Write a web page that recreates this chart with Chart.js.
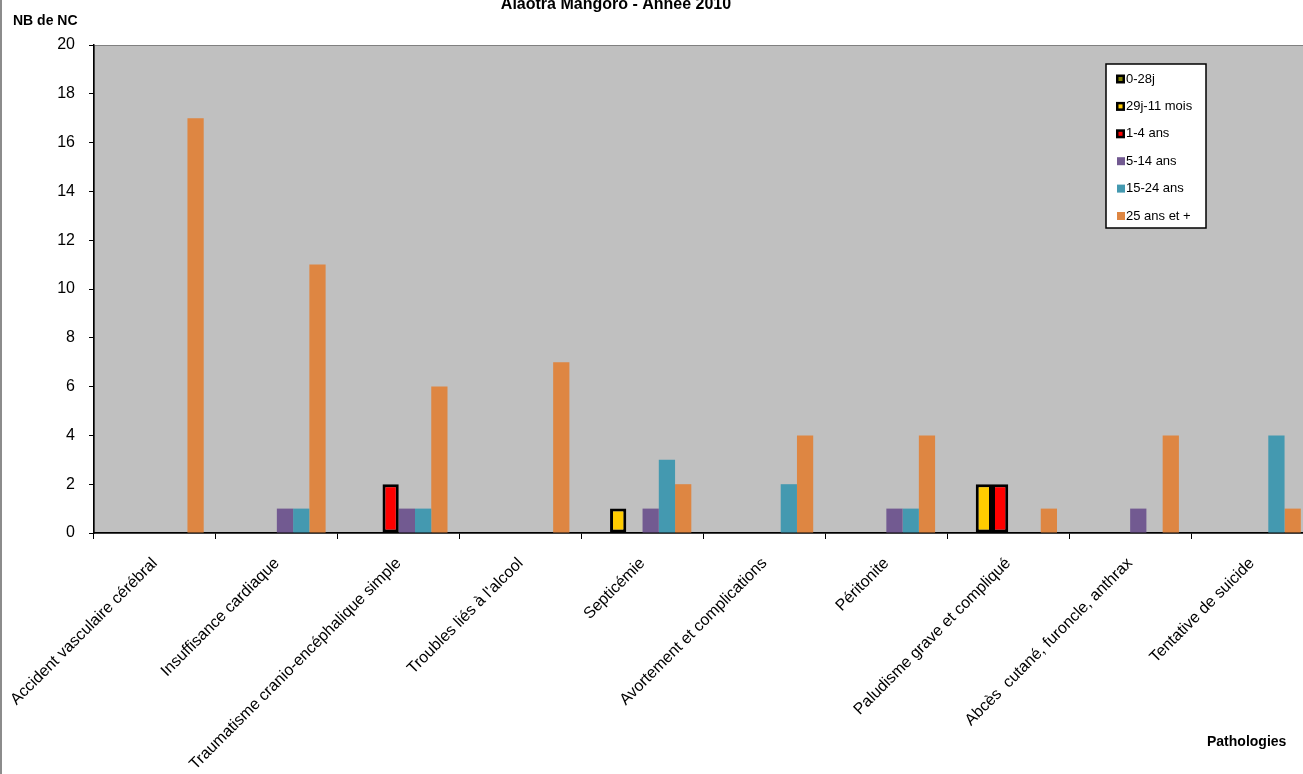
<!DOCTYPE html>
<html>
<head>
<meta charset="utf-8">
<script src="https://cdn.jsdelivr.net/npm/chart.js@4.4.0/dist/chart.umd.min.js"></script>
<style>
  html, body { margin: 0; padding: 0; background: #fff; overflow: hidden; }
  #wrap { position: relative; width: 1313px; height: 774px; }
</style>
</head>
<body>
<div id="wrap"><canvas id="chart"></canvas></div>
<script>
const categories = [
  "Accident vasculaire cérébral",
  "Insuffisance cardiaque",
  "Traumatisme cranio-encéphalique simple",
  "Troubles liés à l'alcool",
  "Septicémie",
  "Avortement et complications",
  "Péritonite",
  "Paludisme grave et compliqué",
  "Abcès  cutané, furoncle, anthrax",
  "Tentative de suicide",
];
const seriesLabels = ["0-28j", "29j-11 mois", "1-4 ans", "5-14 ans", "15-24 ans", "25 ans et +"];
const val0_28j    = [0, 0, 0, 0, 0, 0, 0, 0, 0, 0];
const val29j_11m  = [0, 0, 0, 0, 1, 0, 0, 2, 0, 0];
const val1_4ans   = [0, 0, 2, 0, 0, 0, 0, 2, 0, 0];
const val5_14ans  = [0, 1, 1, 0, 1, 0, 1, 0, 1, 0];
const val15_24ans = [0, 1, 1, 0, 3, 2, 1, 0, 0, 4];
const val25plus   = [17, 11, 6, 7, 2, 4, 4, 1, 4, 1];
const yTicks = [0, 2, 4, 6, 8, 10, 12, 14, 16, 18, 20];

const FONT = '"Liberation Sans", Arial, sans-serif';

// grey plot area + chart frame line on the left
const plotBg = {
  id: "plotBg",
  beforeDraw(chart) {
    const { ctx, chartArea: a } = chart;
    ctx.save();
    ctx.fillStyle = "#C0C0C0";
    ctx.fillRect(a.left, a.top, a.right - a.left, a.bottom - a.top);
    ctx.strokeStyle = "#808080";
    ctx.lineWidth = 1;
    ctx.strokeRect(a.left + 0.5, a.top + 0.5, a.right - a.left, a.bottom - a.top);
    ctx.fillStyle = "#8c8c8c";
    ctx.fillRect(0, 0, 2, chart.height);
    ctx.restore();
  },
};

// title, axis titles and the boxed legend, like the Excel original
const texts = {
  id: "texts",
  afterDraw(chart) {
    const ctx = chart.ctx;
    ctx.save();
    ctx.fillStyle = "#000";
    ctx.textBaseline = "alphabetic";
    ctx.font = "bold 16px " + FONT;
    ctx.textAlign = "center";
    ctx.fillText("Alaotra Mangoro - Année 2010", 616, 9);
    ctx.font = "bold 14px " + FONT;
    ctx.textAlign = "left";
    ctx.fillText("NB de NC", 13, 25);
    ctx.fillText("Pathologies", 1207, 746);

    const x = 1106, y = 64, w = 100, h = 164;
    ctx.fillStyle = "#fff";
    ctx.fillRect(x, y, w, h);
    ctx.strokeStyle = "#000";
    ctx.lineWidth = 1.5;
    ctx.strokeRect(x, y, w, h);
    ctx.font = "13px " + FONT;
    ctx.textBaseline = "middle";
    chart.data.datasets.forEach((ds, i) => {
      const cy = y + 15 + i * 27.4;
      if (ds.borderWidth) {
        ctx.fillStyle = "#000";
        ctx.fillRect(1116, cy - 4.5, 9, 9);
        ctx.fillStyle = ds.backgroundColor;
        ctx.fillRect(1118.5, cy - 2, 4, 4);
      } else {
        ctx.fillStyle = ds.backgroundColor;
        ctx.fillRect(1117, cy - 4, 8, 8);
      }
      ctx.fillStyle = "#000";
      ctx.fillText(ds.label, 1126, cy);
    });
    ctx.restore();
  },
};

const colors = ["#808000", "#FFCC00", "#FF0000", "#725A91", "#4499B0", "#DE8642"];
const values = [val0_28j, val29j_11m, val1_4ans, val5_14ans, val15_24ans, val25plus];

const ctx = document.getElementById("chart").getContext("2d");
const chart = new Chart(ctx, {
  type: "bar",
  data: {
    labels: categories,
    datasets: seriesLabels.map((label, i) => ({
      label: label,
      data: values[i],
      backgroundColor: colors[i],
      borderColor: "#000",
      borderWidth: i < 3 ? 3 : 0,
      borderSkipped: false,
      categoryPercentage: 0.8,
      barPercentage: 1.0,
    })),
  },
  options: {
    responsive: true,
    maintainAspectRatio: false,
    animation: false,
    layout: { padding: { top: 45, left: 0, right: 0, bottom: 0 } },
    plugins: {
      legend: { display: false },
      title: { display: false },
      tooltip: { enabled: false },
    },
    scales: {
      x: {
        grid: { display: true, drawOnChartArea: false, tickLength: 6, color: "#000", offset: true },
        border: { color: "#000", width: 1.5 },
        ticks: {
          autoSkip: false,
          minRotation: 45,
          maxRotation: 45,
          padding: 15,
          color: "#000",
          font: { family: FONT, size: 16 },
        },
        afterFit(scale) {
          scale.height = 241;
          scale.paddingLeft = 0;
          scale.paddingRight = 0;
        },
      },
      y: {
        min: 0,
        max: 20,
        afterBuildTicks(scale) {
          scale.ticks = yTicks.map((v) => ({ value: v }));
        },
        grid: { display: true, drawOnChartArea: false, tickLength: 5, color: "#000" },
        border: { color: "#000", width: 1.5 },
        ticks: {
          padding: 14,
          color: "#000",
          font: { family: FONT, size: 16 },
        },
        afterFit(scale) {
          scale.width = 94;
          scale.paddingTop = 0;
          scale.paddingBottom = 0;
        },
      },
    },
  },
  plugins: [plotBg, texts],
});
</script>
</body>
</html>
